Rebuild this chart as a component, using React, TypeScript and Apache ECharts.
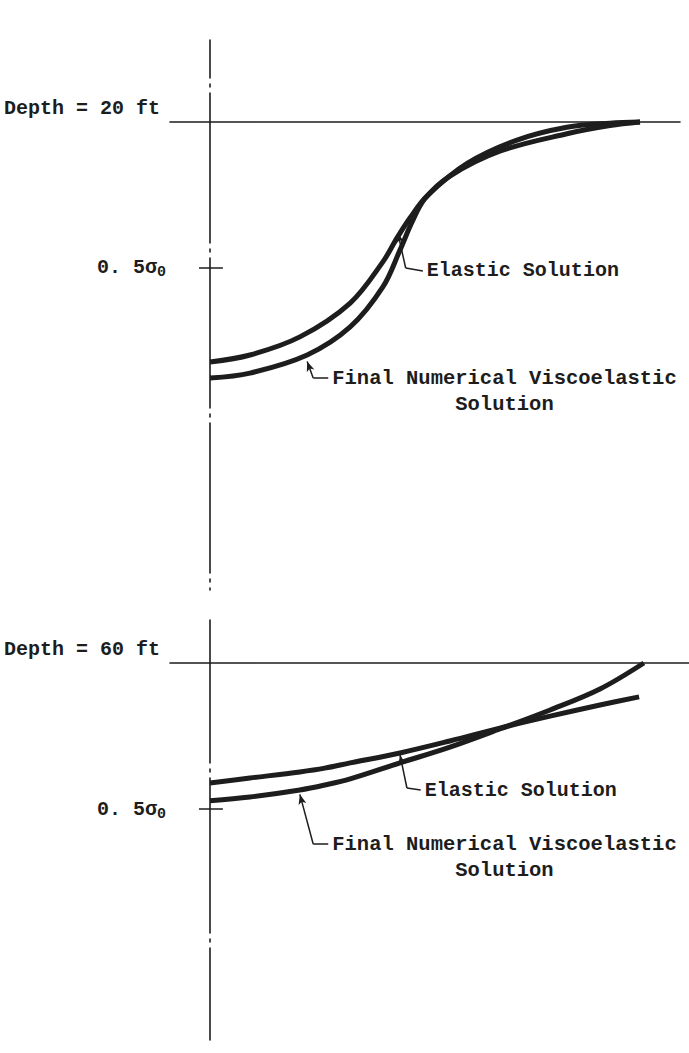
import React, { useEffect, useRef } from "react";
import * as echarts from "echarts";

// ---- data (x: normalised distance from the axis, y: stress in units of sigma0, downward) ----
const panelTitles = ["Depth = 20 ft", "Depth = 60 ft"];
const tickValues = [0.5];

const topElasticX = [0, 0.093, 0.209, 0.326, 0.402, 0.435, 0.465, 0.505, 0.598, 0.714, 0.83, 0.93, 1.0];
const topElasticY = [0.822, 0.798, 0.736, 0.62, 0.479, 0.397, 0.329, 0.253, 0.142, 0.062, 0.018, 0.004, 0];
const topFinalX = [0, 0.093, 0.226, 0.326, 0.402, 0.442, 0.47, 0.5, 0.558, 0.674, 0.83, 0.93, 1.0];
const topFinalY = [0.877, 0.86, 0.798, 0.702, 0.565, 0.438, 0.342, 0.262, 0.185, 0.1, 0.04, 0.012, 0];

const botElasticX = [0, 0.093, 0.209, 0.267, 0.326, 0.442, 0.558, 0.674, 0.791, 0.907, 0.998];
const botElasticY = [0.411, 0.394, 0.373, 0.36, 0.342, 0.308, 0.267, 0.223, 0.182, 0.144, 0.116];
const botFinalX = [0, 0.093, 0.209, 0.267, 0.326, 0.442, 0.558, 0.674, 0.791, 0.907, 1.009];
const botFinalY = [0.472, 0.459, 0.435, 0.418, 0.397, 0.342, 0.288, 0.226, 0.161, 0.089, 0];

const elasticLabel = "Elastic Solution";
const finalLabel = ["Final Numerical Viscoelastic", "Solution"];

const FONT = "Liberation Mono";
const INK = "#1d1d1d";

const pairs = (xs: number[], ys: number[]) => xs.map((x, i) => [x, ys[i]]);

const txt = { fontFamily: FONT, fontSize: 20, fontWeight: "bold" as const, color: INK };

function leader(tip: number[], corner: number[], end: number[]) {
  return {
    silent: true,
    symbol: ["none", "none"],
    lineStyle: { color: INK, width: 1.5, type: "solid" as const },
    label: { show: false },
    emphasis: { disabled: true },
    data: [
      [{ coord: tip, symbol: "arrow", symbolSize: [6, 10] }, { coord: corner, symbol: "none" }],
      [{ coord: corner, symbol: "none" }, { coord: end, symbol: "none" }],
    ],
  };
}

function curveSeries(name: string, idx: number, data: number[][], extra: any) {
  return {
    name,
    type: "line",
    xAxisIndex: idx,
    yAxisIndex: idx,
    data,
    smooth: 0.35,
    symbol: "none",
    lineStyle: { color: INK, width: 5 },
    z: 3,
    ...extra,
  };
}

function elasticText(coord: number[]) {
  return {
    symbol: "rect",
    symbolSize: 0,
    silent: true,
    label: { show: true, position: "right", distance: 4, formatter: elasticLabel, ...txt },
    data: [{ coord }],
  };
}

function finalText(coord: number[]) {
  return {
    symbol: "rect",
    symbolSize: 0,
    silent: true,
    label: {
      show: true,
      position: "right",
      distance: 4,
      offset: [0, 13],
      formatter: `{f|${finalLabel[0]}}\n{s|${finalLabel[1]}}`,
      rich: {
        f: { ...txt, fontSize: 20.5, lineHeight: 26, align: "left" },
        s: { ...txt, fontSize: 20.5, lineHeight: 26, align: "center" },
      },
    },
    data: [{ coord }],
  };
}

function tickMark(v: number) {
  return {
    silent: true,
    symbol: ["none", "none"],
    lineStyle: { color: INK, width: 1.5, type: "solid" as const },
    label: { show: false },
    data: [[{ coord: [0, v] }, { coord: [0.03, v] }]],
  };
}

export default function App() {
  const ref = useRef<HTMLDivElement>(null);
  useEffect(() => {
    if (!ref.current) return;
    const chart = echarts.init(ref.current, undefined, { renderer: "svg" });

    const xAxisBase = (idx: number, max: number) => ({
      gridIndex: idx,
      type: "value",
      min: -0.093,
      max,
      axisLine: { onZero: true, lineStyle: { color: INK, width: 1.6 } },
      axisTick: { show: false },
      axisLabel: { show: false },
      splitLine: { show: false },
      name: panelTitles[idx],
      nameLocation: "start",
      nameGap: 10,
      nameTextStyle: { ...txt, align: "right", verticalAlign: "bottom", padding: [0, 0, 4, 0] },
    });

    const yAxisBase = (idx: number, min: number, max: number, dash: number[], offset: number) => ({
      gridIndex: idx,
      type: "value",
      inverse: true,
      min,
      max,
      axisLine: {
        onZero: true,
        lineStyle: { color: INK, width: 1.6, type: dash, dashOffset: offset },
      },
      axisTick: { show: true, customValues: tickValues, length: 11, lineStyle: { color: INK, width: 1.5 } },
      axisLabel: {
        show: true,
        customValues: tickValues,
        margin: 4,
        formatter: () => "{a|0. 5σ}{b|0}",
        rich: {
          a: { ...txt },
          b: { ...txt, fontSize: 15, padding: [10, 0, 0, 0] },
        },
      },
      splitLine: { show: false },
    });

    chart.setOption({
      animation: false,
      backgroundColor: "#ffffff",
      grid: [
        { left: 170, top: 40, width: 510, height: 550 },
        { left: 170, top: 620, width: 519, height: 420 },
      ],
      xAxis: [xAxisBase(0, 1.093), xAxisBase(1, 1.114)],
      yAxis: [
        yAxisBase(0, -0.281, 1.603, [150, 6, 3, 6], 112),
        yAxisBase(1, -0.1473, 1.2911, [155, 6, 3, 6], 12),
      ],
      series: [
        curveSeries("Elastic Solution (20 ft)", 0, pairs(topElasticX, topElasticY), {
          markLine: leader([0.437, 0.38], [0.455, 0.5], [0.495, 0.51]),
          markPoint: elasticText([0.495, 0.51]),
        }),
        curveSeries("Final Numerical Viscoelastic Solution (20 ft)", 0, pairs(topFinalX, topFinalY), {
          markLine: leader([0.226, 0.82], [0.24, 0.877], [0.275, 0.877]),
          markPoint: finalText([0.275, 0.877]),
        }),
        {
          type: "line",
          xAxisIndex: 0,
          yAxisIndex: 0,
          data: [],
          markLine: tickMark(tickValues[0]),
        },
        curveSeries("Elastic Solution (60 ft)", 1, pairs(botElasticX, botElasticY), {
          markLine: leader([0.442, 0.315], [0.458, 0.428], [0.49, 0.435]),
          markPoint: elasticText([0.49, 0.435]),
        }),
        curveSeries("Final Numerical Viscoelastic Solution (60 ft)", 1, pairs(botFinalX, botFinalY), {
          markLine: leader([0.209, 0.45], [0.24, 0.62], [0.275, 0.62]),
          markPoint: finalText([0.275, 0.62]),
        }),
        {
          type: "line",
          xAxisIndex: 1,
          yAxisIndex: 1,
          data: [],
          markLine: tickMark(tickValues[0]),
        },
      ],
    });
    return () => chart.dispose();
  }, []);

  return <div ref={ref} style={{ width: 689, height: 1053, position: "absolute", left: 0, top: 0, background: "#fff" }} />;
}
